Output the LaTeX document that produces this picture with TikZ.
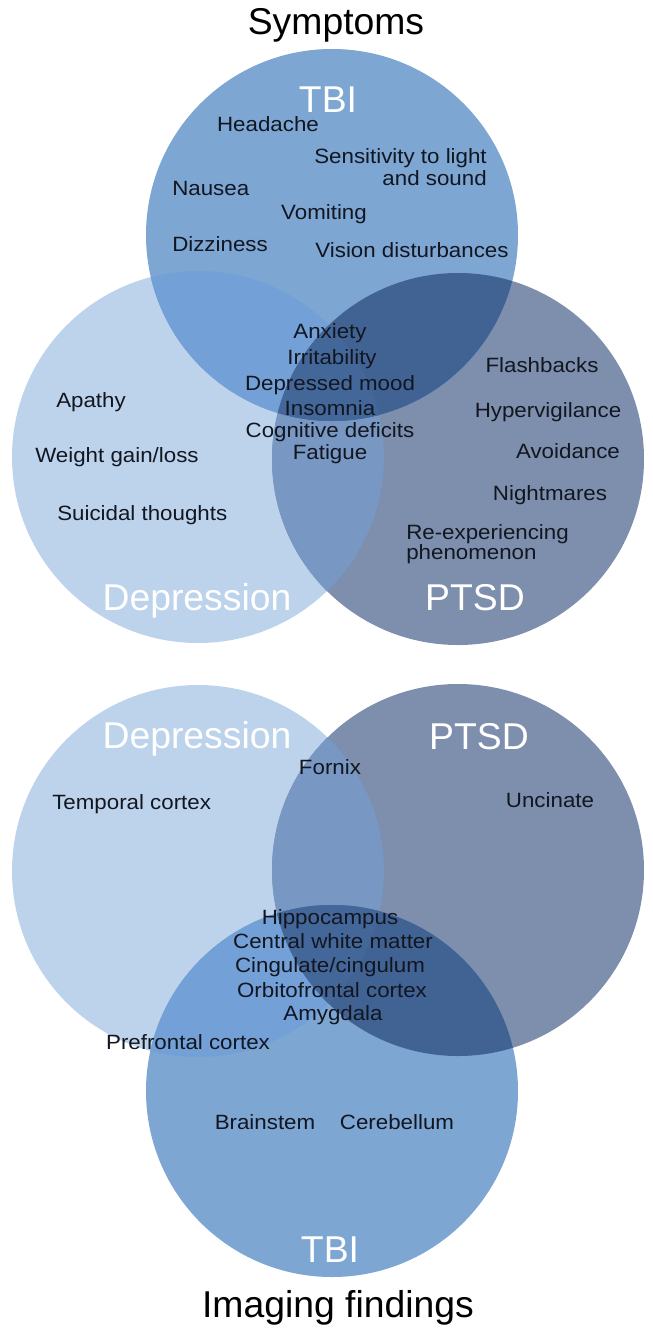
\documentclass[tikz,border=0pt]{standalone}
\usepackage{fontspec}
\setmainfont{Liberation Sans}
\newfontfamily\labfont[FakeStretch=1.08]{Liberation Sans}
\definecolor{dep}{HTML}{BDD3EC}
\definecolor{ptsd}{HTML}{7D8FAD}
\definecolor{tbi}{HTML}{7DA6D3}
\definecolor{depptsd}{HTML}{7897C2}
\definecolor{deptbi}{HTML}{73A0D6}
\definecolor{tbiptsd}{HTML}{416394}
\definecolor{triple}{HTML}{44679A}
\definecolor{txt}{HTML}{121620}
\begin{document}
\begin{tikzpicture}[x=0.75pt,y=-0.75pt,
  lab/.style={font=\labfont\fontsize{15.5}{17}\selectfont, text=txt, inner sep=0pt, text height=0.72em, text depth=0.2em, yshift=-3pt},
  labm/.style={font=\labfont\fontsize{15.5}{17}\selectfont, text=txt, inner sep=0pt, yshift=-3pt},
  big/.style={font=\fontsize{28}{30}\selectfont, text=white, inner sep=0pt, text height=0.72em, text depth=0.02em, yshift=-6pt},
  ttl/.style={font=\fontsize{28}{30}\selectfont, text=black, inner sep=0pt, text height=0.72em, text depth=0.2em, yshift=-5pt}]
\useasboundingbox (0,0) rectangle (653,1332);
\def\R{139.5pt}
% ---------- top Venn ----------
\fill[dep]  (198,457) circle[radius=\R];
\fill[ptsd] (458,459) circle[radius=\R];
\fill[tbi]  (332,235) circle[radius=\R];
\begin{scope}
  \clip (198,457) circle[radius=\R];
  \fill[depptsd] (458,459) circle[radius=\R];
  \fill[deptbi] (332,235) circle[radius=\R];
\end{scope}
\begin{scope}
  \clip (332,235) circle[radius=\R];
  \fill[tbiptsd] (458,459) circle[radius=\R];
  \clip (198,457) circle[radius=\R];
  \fill[triple] (458,459) circle[radius=\R];
\end{scope}
% ---------- bottom Venn ----------
\fill[dep]  (198,871) circle[radius=\R];
\fill[ptsd] (458,870) circle[radius=\R];
\fill[tbi]  (332,1091) circle[radius=\R];
\begin{scope}
  \clip (198,871) circle[radius=\R];
  \fill[depptsd] (458,870) circle[radius=\R];
  \fill[deptbi] (332,1091) circle[radius=\R];
\end{scope}
\begin{scope}
  \clip (332,1091) circle[radius=\R];
  \fill[tbiptsd] (458,870) circle[radius=\R];
  \clip (198,871) circle[radius=\R];
  \fill[triple] (458,870) circle[radius=\R];
\end{scope}
% ---------- top labels ----------
\node[ttl] (symptoms) at (336,24) {Symptoms};
\node[big] (tbiA) at (328,100) {TBI};
\node[lab] (headache) at (268,124) {Headache};
\node[labm, align=right, anchor=east] (sens) at (487,163) {Sensitivity to light\\and sound};
\node[lab, anchor=west] (nausea) at (172,188) {Nausea};
\node[lab] (vomit) at (324,212) {Vomiting};
\node[lab, anchor=west] (dizzy) at (172,244) {Dizziness};
\node[lab] (vision) at (412,250) {Vision disturbances};
\node[lab] (anx) at (330,331) {Anxiety};
\node[lab] (irr) at (332,357) {Irritability};
\node[lab] (dmood) at (330,383) {Depressed mood};
\node[lab] (insom) at (330,408) {Insomnia};
\node[lab] (cogn) at (330,430) {Cognitive deficits};
\node[lab] (fat) at (330,452) {Fatigue};
\node[lab, anchor=west] (apathy) at (56,400) {Apathy};
\node[lab, anchor=west] (weight) at (35,455) {Weight gain/loss};
\node[lab, anchor=west] (suic) at (57,513) {Suicidal thoughts};
\node[lab] (flash) at (542,365) {Flashbacks};
\node[lab] (hyper) at (548,410) {Hypervigilance};
\node[lab] (avoid) at (568,451) {Avoidance};
\node[lab] (night) at (550,493) {Nightmares};
\node[labm, anchor=west, align=left, font=\labfont\fontsize{15.5}{13.5}\selectfont] (reexp) at (406,540) {Re-experiencing\\phenomenon};
\node[big] (depA) at (197,598) {Depression};
\node[big] (ptsdA) at (475,598) {PTSD};
% ---------- bottom labels ----------
\node[big] (depB) at (197,736) {Depression};
\node[big] (ptsdB) at (479,737) {PTSD};
\node[lab] (fornix) at (330,767) {Fornix};
\node[lab, anchor=west] (temp) at (52,802) {Temporal cortex};
\node[lab] (uncin) at (550,800) {Uncinate};
\node[lab] (hippo) at (330,917) {Hippocampus};
\node[lab] (cwm) at (333,941) {Central white matter};
\node[lab] (cing) at (330,965) {Cingulate/cingulum};
\node[lab] (orbit) at (332,990) {Orbitofrontal cortex};
\node[lab] (amyg) at (333,1013) {Amygdala};
\node[lab] (pref) at (188,1042) {Prefrontal cortex};
\node[lab] (brain) at (265,1122) {Brainstem};
\node[lab] (cereb) at (397,1122) {Cerebellum};
\node[big] (tbiB) at (330,1250) {TBI};
\node[ttl] (imaging) at (338,1307) {Imaging findings};
\end{tikzpicture}
\end{document}
